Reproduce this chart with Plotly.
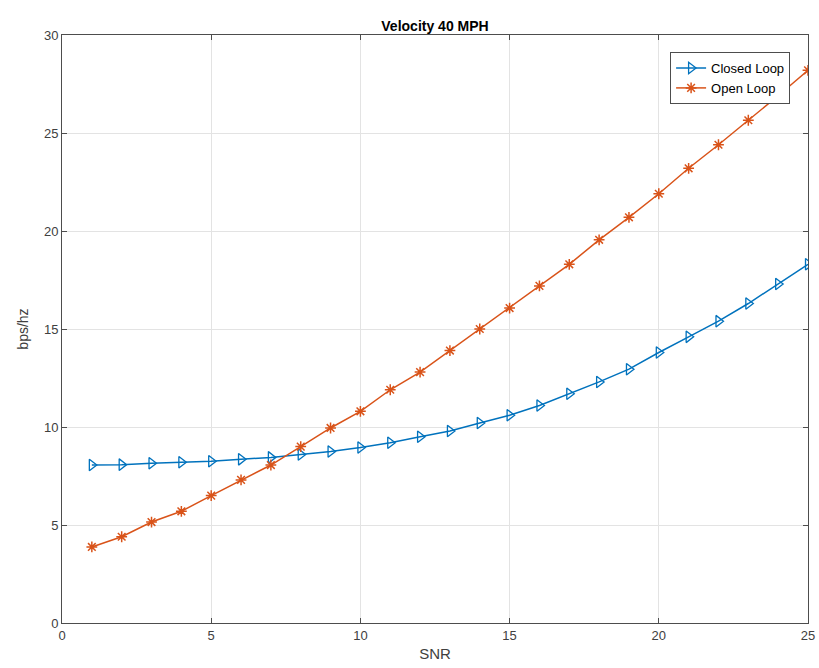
import plotly.graph_objects as go

snr = list(range(1, 26))
closed_loop = [8.06, 8.08, 8.15, 8.2, 8.25, 8.35, 8.45, 8.6, 8.75, 8.95, 9.2, 9.5, 9.8, 10.2, 10.6,
               11.1, 11.7, 12.3, 12.95, 13.8, 14.6, 15.4, 16.3, 17.3, 18.3]
open_loop = [3.88, 4.4, 5.15, 5.7, 6.5, 7.3, 8.06, 9.0, 9.95, 10.8, 11.9, 12.8, 13.9, 15.0, 16.07,
             17.2, 18.3, 19.55, 20.7, 21.9, 23.2, 24.4, 25.65, 26.9, 28.2]
x_ticks = [0, 5, 10, 15, 20, 25]
y_ticks = [0, 5, 10, 15, 20, 25, 30]

FONT = "Liberation Sans Narrow, Liberation Sans, Arial, sans-serif"

fig = go.Figure()
fig.add_trace(go.Scatter(x=snr, y=closed_loop, mode="lines+markers", name="Closed Loop",
                         line=dict(color="#0072BD", width=1.5),
                         marker=dict(symbol="triangle-right-open", size=10, color="#0072BD",
                                     line=dict(width=1.3, color="#0072BD"))))
fig.add_trace(go.Scatter(x=snr, y=open_loop, mode="lines+markers", name="Open Loop",
                         line=dict(color="#D95319", width=1.5),
                         marker=dict(symbol="asterisk-open", size=9, color="#D95319",
                                     line=dict(width=1.5, color="#D95319"))))

axis_common = dict(showline=True, linecolor="#4d4d4d", linewidth=1, mirror="ticks",
                   ticks="inside", ticklen=5, tickcolor="#4d4d4d", automargin=False,
                   showgrid=True, gridcolor="#e3e3e3", gridwidth=1, zeroline=False,
                   tickfont=dict(family=FONT, size=13, color="#404040"))

fig.update_layout(
    width=819, height=668,
    paper_bgcolor="white", plot_bgcolor="white",
    margin=dict(l=62, r=11, t=35, b=45, autoexpand=False),
    title=dict(text="<b>Velocity 40 MPH</b>", x=0.5, xanchor="center", xref="paper",
               y=1, yref="paper", yanchor="bottom", pad=dict(b=4), automargin=False,
               font=dict(family=FONT, size=14, color="#000000")),
    xaxis=dict(range=[0, 25], tickvals=x_ticks, title=dict(text="SNR", standoff=6,
               font=dict(family=FONT, size=15, color="#404040")), **axis_common),
    yaxis=dict(range=[0, 30], tickvals=y_ticks, title=dict(text="bps/hz", standoff=12,
               font=dict(family=FONT, size=14, color="#404040")), **axis_common),
    legend=dict(x=0.976, y=0.971, xanchor="right", yanchor="top",
                bgcolor="white", bordercolor="#4d4d4d", borderwidth=1,
                font=dict(family=FONT, size=13, color="#000000"),
                tracegroupgap=0, itemwidth=30),
    showlegend=True,
)

fig.write_html("out.html", config={"displayModeBar": False},
               post_script="document.body.style.margin='0';document.body.style.overflow='hidden';")
